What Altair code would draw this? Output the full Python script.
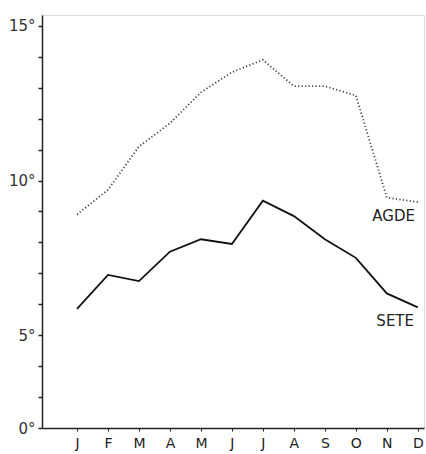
import altair as alt
import pandas as pd

# Monthly mean sea temperatures (°C)
months = ["J", "F", "M", "A", "M", "J", "J", "A", "S", "O", "N", "D"]
agde = [8.9, 9.7, 11.1, 11.85, 12.85, 13.5, 13.9, 13.05, 13.05, 12.75, 9.45, 9.3]
sete = [5.85, 6.95, 6.75, 7.7, 8.1, 7.95, 9.35, 8.85, 8.1, 7.5, 6.35, 5.9]

# Series name labels placed near the December end of each curve
label_names = ["AGDE", "SETE"]
label_month = [11.22, 11.27]
label_temp = [8.85, 5.45]

rows = []
for i, m in enumerate(months):
    rows.append({"mois": i + 1, "station": "AGDE", "temp": agde[i]})
    rows.append({"mois": i + 1, "station": "SETE", "temp": sete[i]})
df = pd.DataFrame(rows)
labels = pd.DataFrame({"station": label_names, "mois": label_month, "temp": label_temp})

font = "DejaVu Sans"
x_scale = alt.Scale(domain=[-0.13, 12.2], nice=False, zero=False)
y_scale = alt.Scale(domain=[2, 15.35], nice=False, zero=False)

month_expr = "['','J','F','M','A','M','J','J','A','S','O','N','D'][datum.value]"

x_enc = alt.X(
    "mois:Q", scale=x_scale, title=None,
    axis=alt.Axis(
        values=list(range(1, 13)), labelExpr=month_expr, grid=False,
        labelOverlap=False, labelFlush=False,
        domainColor="#222", domainWidth=1.5, tickColor="#222", tickSize=3,
        labelFont=font, labelFontSize=14, labelColor="#222", labelPadding=5,
    ),
)
y_enc = alt.Y(
    "temp:Q", scale=y_scale, title=None,
    axis=alt.Axis(
        values=list(range(2, 16)),
        labelExpr="datum.value == 2 ? '0°' : (datum.value % 5 == 0 ? datum.value + '°' : '')",
        labelOverlap=False, labelFlush=False,
        grid=False, domainColor="#222", domainWidth=1.5, tickColor="#222", tickSize=4,
        tickWidth=1.5, labelFont=font, labelFontSize=15, labelColor="#333", labelPadding=3,
    ),
)

agde_line = alt.Chart(df).transform_filter(alt.datum.station == "AGDE").mark_line(
    color="#444", strokeWidth=1.8, strokeDash=[1.2, 2.3]
).encode(x=x_enc, y=y_enc)

sete_line = alt.Chart(df).transform_filter(alt.datum.station == "SETE").mark_line(
    color="#111", strokeWidth=1.8
).encode(x=x_enc, y=y_enc)

names = alt.Chart(labels).mark_text(
    font=font, fontSize=15, color="#222", align="center", baseline="middle"
).encode(x=x_enc, y=y_enc, text="station:N")

chart = alt.layer(agde_line, sete_line, names).properties(
    width=382, height=413,
    padding={"left": 42, "top": 15, "right": 2, "bottom": 26},
    autosize="none",
).configure_view(stroke=None).configure(background="white")

chart.save("out.html", embed_options={"renderer": "svg", "actions": False})
